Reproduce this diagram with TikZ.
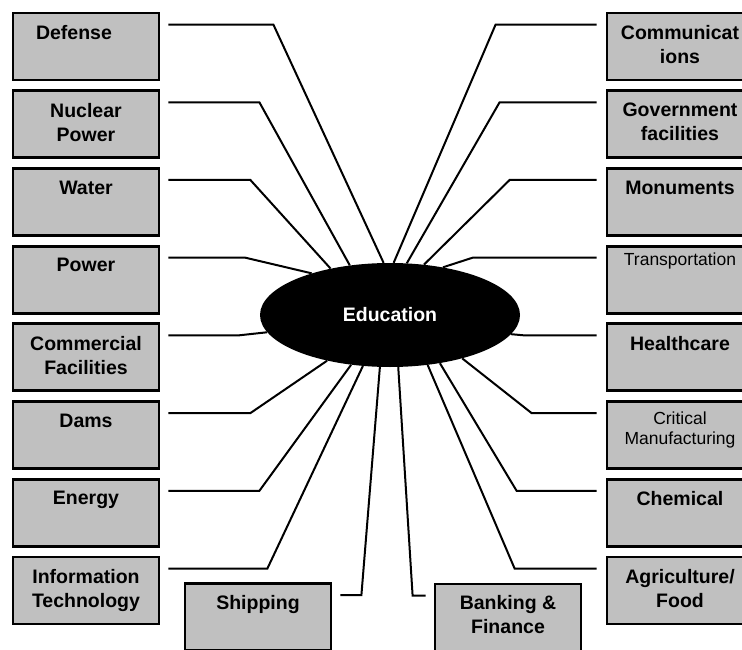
\documentclass[tikz,border=0pt]{standalone}
\usepackage{fontspec}
\setmainfont{Liberation Sans}
\usetikzlibrary{shapes.geometric, positioning}

\definecolor{boxgray}{RGB}{192,192,192}
\tikzset{
  sector/.style={draw=black, line width=2.8pt, fill=boxgray, minimum width=146pt, minimum height=67pt, inner sep=0pt},
  tag/.style={font=\bfseries\fontsize{19.5}{24}\selectfont, align=center, anchor=north, inner sep=0pt},
  smalltag/.style={tag, font=\fontsize{17.5}{20}\selectfont},
  wire/.style={line width=2pt, line join=miter},
  hub/.style={ellipse, fill=black, minimum width=260pt, minimum height=104pt, inner sep=0pt, text=white, font=\bfseries\fontsize{19.5}{24}\selectfont}
}

\begin{document}
\begin{tikzpicture}[x=1pt, y=-1pt, node distance=77.7pt, on grid]
   \useasboundingbox (0,0) rectangle (742,650);
   \clip (0,0) rectangle (742,650);

   % centre
   \node[hub] (edu) at (390,315) {Education};

   % left column
   \node[sector] (defense) at (86,46.5) {};
   \node[sector] (nuclear) [below=of defense] {};
   \node[sector] (water) [below=of nuclear] {};
   \node[sector] (power) [below=of water] {};
   \node[sector] (commercial) [below=of power] {};
   \node[sector] (dams) [below=of commercial] {};
   \node[sector] (energy) [below=of dams] {};
   \node[sector] (infotech) [below=of energy] {};

   % right column
   \node[sector] (comms) at (680,46.5) {};
   \node[sector] (govt) [below=of comms] {};
   \node[sector] (monuments) [below=of govt] {};
   \node[sector] (transport) [below=of monuments] {};
   \node[sector] (health) [below=of transport] {};
   \node[sector] (critical) [below=of health] {};
   \node[sector] (chemical) [below=of critical] {};
   \node[sector] (agri) [below=of chemical] {};

   % bottom row
   \node[sector] (shipping) at (258,617) {};
   \node[sector] (banking) at (508,617.5) {};

   % box texts
   \node[tag] (defense-t) at ([xshift=-12pt,yshift=-13.5pt]defense.north) {Defense};
   \node[tag] (nuclear-t) at ([yshift=-13.5pt]nuclear.north) {Nuclear\\Power};
   \node[tag] (water-t) at ([yshift=-13.5pt]water.north) {Water};
   \node[tag] (power-t) at ([yshift=-13.5pt]power.north) {Power};
   \node[tag] (commercial-t) at ([yshift=-13.5pt]commercial.north) {Commercial\\Facilities};
   \node[tag] (dams-t) at ([yshift=-13.5pt]dams.north) {Dams};
   \node[tag] (energy-t) at ([yshift=-13.5pt]energy.north) {Energy};
   \node[tag] (infotech-t) at ([yshift=-13.5pt]infotech.north) {Information\\Technology};
   \node[tag] (comms-t) at ([yshift=-13.5pt]comms.north) {Communicat\\ions};
   \node[tag] (govt-t) at ([yshift=-13.5pt]govt.north) {Government\\facilities};
   \node[tag] (monuments-t) at ([yshift=-13.5pt]monuments.north) {Monuments};
   \node[smalltag] (transport-t) at ([yshift=-8pt]transport.north) {Transportation};
   \node[tag] (health-t) at ([yshift=-13.5pt]health.north) {Healthcare};
   \node[smalltag] (critical-t) at ([yshift=-12pt]critical.north) {Critical\\Manufacturing};
   \node[tag] (chemical-t) at ([yshift=-13.5pt]chemical.north) {Chemical};
   \node[tag] (agri-t) at ([yshift=-13.5pt]agri.north) {Agriculture/\\Food};
   \node[tag] (shipping-t) at ([yshift=-13.5pt]shipping.north) {Shipping};
   \node[tag] (banking-t) at ([yshift=-12.5pt]banking.north) {Banking \&\\Finance};

   % spokes, left
   \draw[wire] ([xshift=8pt,yshift=-13pt]defense.north east) -- ++(105,0) -- (edu.97.5);
   \draw[wire] ([xshift=8pt,yshift=-13pt]nuclear.north east) -- ++(91,0) -- (edu.129);
   \draw[wire] ([xshift=8pt,yshift=-13pt]water.north east) -- ++(82,0) -- (edu.142.3);
   \draw[wire] ([xshift=8pt,yshift=-13pt]power.north east) -- ++(77,0) -- (edu.152.3);
   \draw[wire] ([xshift=8pt,yshift=-13pt]commercial.north east) -- ++(70,0) -- (edu.188.5);
   \draw[wire] ([xshift=8pt,yshift=-13pt]dams.north east) -- ++(82,0) -- (edu.216.7);
   \draw[wire] ([xshift=8pt,yshift=-13pt]energy.north east) -- ++(91,0) -- (edu.232.8);
   \draw[wire] ([xshift=8pt,yshift=-13pt]infotech.north east) -- ++(99,0) -- (edu.242.6);

   % spokes, right
   \draw[wire] ([xshift=-9pt,yshift=-13pt]comms.north west) -- ++(-101,0) -- (edu.86.8);
   \draw[wire] ([xshift=-9pt,yshift=-13pt]govt.north west) -- ++(-97,0) -- (edu.72.9);
   \draw[wire] ([xshift=-9pt,yshift=-13pt]monuments.north west) -- ++(-87,0) -- (edu.56);
   \draw[wire] ([xshift=-9pt,yshift=-13pt]transport.north west) -- ++(-124,0) -- (edu.42.8);
   \draw[wire] ([xshift=-9pt,yshift=-13pt]health.north west) -- ++(-72,0) -- (edu.351.2);
   \draw[wire] ([xshift=-9pt,yshift=-13pt]critical.north west) -- ++(-65,0) -- (edu.329.7);
   \draw[wire] ([xshift=-9pt,yshift=-13pt]chemical.north west) -- ++(-80,0) -- (edu.316.2);
   \draw[wire] ([xshift=-9pt,yshift=-13pt]agri.north west) -- ++(-82,0) -- (edu.307.2);

   % spokes, bottom
   \draw[wire] ([xshift=8pt,yshift=-13pt]shipping.north east) -- ++(21,0) -- (edu.259);
   \draw[wire] ([xshift=-8pt,yshift=-13pt]banking.north west) -- ++(-13,0) -- (edu.279.8);
\end{tikzpicture}
\end{document}
